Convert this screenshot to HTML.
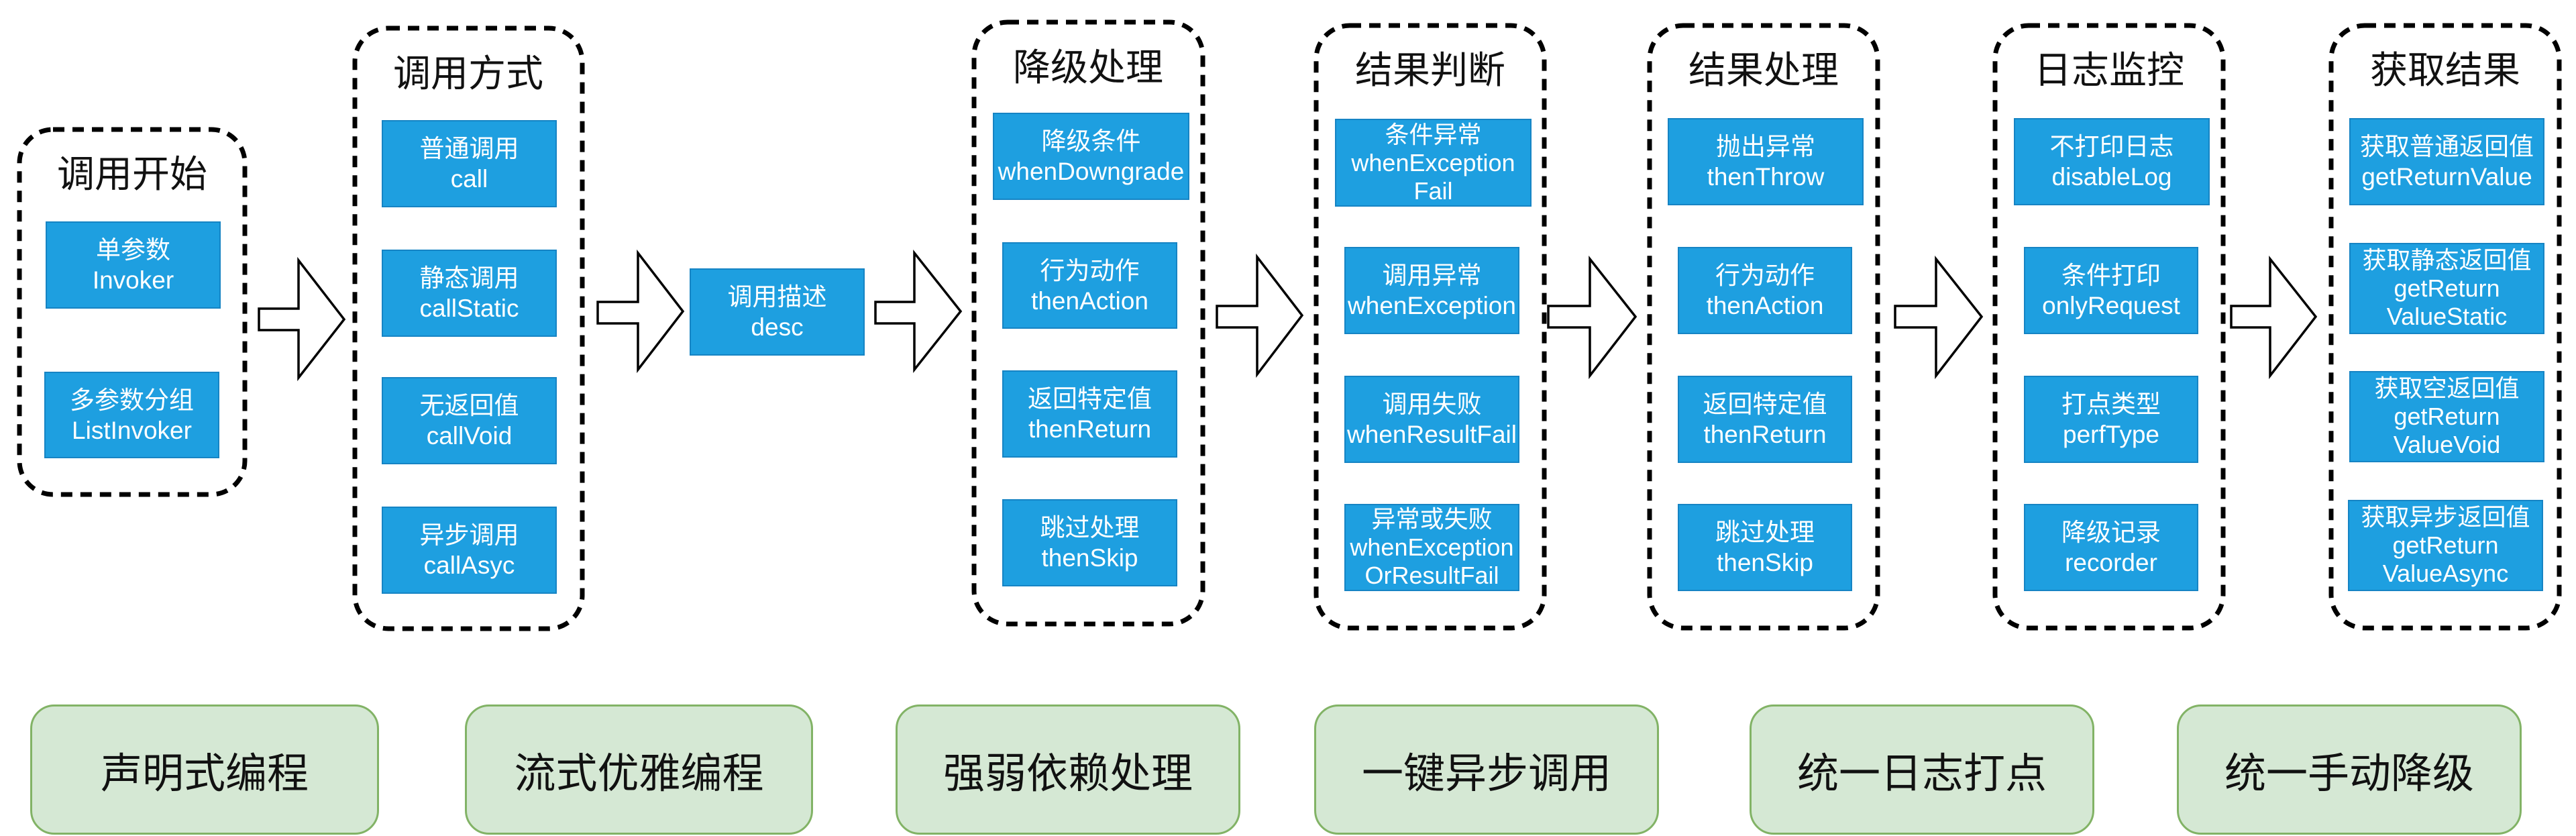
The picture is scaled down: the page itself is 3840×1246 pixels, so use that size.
<!DOCTYPE html>
<html><head><meta charset="utf-8"><style>
html,body{margin:0;padding:0;background:#fff;}
body{width:3840px;height:1246px;position:relative;overflow:hidden;font-family:"Liberation Sans","Noto Sans CJK SC",sans-serif;}
.b{position:absolute;background:#1e9fe0;border:2px solid #1684c4;box-sizing:border-box;color:#fff;display:flex;flex-direction:column;align-items:center;justify-content:center;font-size:37px;line-height:45px;text-align:center;white-space:nowrap;overflow:visible;}
.b.t{line-height:42px;font-size:36px;}
.t1{position:absolute;font-size:56px;color:#111;text-align:center;transform:translateX(-50%);white-space:nowrap;line-height:60px;}
.g{position:absolute;background:#d5e8d4;border:3px solid #82b366;box-sizing:border-box;border-radius:36px;display:flex;align-items:center;justify-content:center;font-size:62px;color:#111;}
svg{position:absolute;left:0;top:0;}
</style></head><body>
<svg width="3840" height="1246">
<g fill="none" stroke="#000" stroke-width="7" stroke-dasharray="17 12">
<rect x="29" y="193" width="336" height="544" rx="50"/>
<rect x="529" y="42" width="339" height="895" rx="50"/>
<rect x="1452" y="33" width="341" height="897" rx="50"/>
<rect x="1962" y="38" width="340" height="898" rx="50"/>
<rect x="2459" y="38" width="340" height="898" rx="50"/>
<rect x="2974" y="38" width="340" height="898" rx="50"/>
<rect x="3475" y="38" width="340" height="898" rx="50"/>
</g>
<g fill="#fff" stroke="#000" stroke-width="3.5" stroke-linejoin="miter">
<polygon points="386,460 445,460 445,388 513,476 445,563 445,492 386,492"/>
<polygon points="891,450 951,450 951,377 1018,464 951,551 951,482 891,482"/>
<polygon points="1305,450 1363,450 1363,377 1432,464 1363,551 1363,482 1305,482"/>
<polygon points="1814,456 1874,456 1874,383 1941,470 1874,558 1874,488 1814,488"/>
<polygon points="2308,456 2370,456 2370,386 2438,472 2370,560 2370,488 2308,488"/>
<polygon points="2825,456 2886,456 2886,386 2954,472 2886,560 2886,488 2825,488"/>
<polygon points="3326,456 3384,456 3384,386 3452,472 3384,560 3384,488 3326,488"/>
</g>
</svg>

<div class="t1" style="left:197px;top:230px;">调用开始</div>
<div class="t1" style="left:698px;top:80px;">调用方式</div>
<div class="t1" style="left:1622px;top:71px;">降级处理</div>
<div class="t1" style="left:2132px;top:75px;">结果判断</div>
<div class="t1" style="left:2629px;top:75px;">结果处理</div>
<div class="t1" style="left:3144px;top:75px;">日志监控</div>
<div class="t1" style="left:3645px;top:75px;">获取结果</div>

<div class="b" style="left:68px;top:330px;width:261px;height:130px;">单参数<br>Invoker</div>
<div class="b" style="left:66px;top:554px;width:261px;height:129px;">多参数分组<br>ListInvoker</div>

<div class="b" style="left:569px;top:179px;width:261px;height:130px;">普通调用<br>call</div>
<div class="b" style="left:569px;top:372px;width:261px;height:130px;">静态调用<br>callStatic</div>
<div class="b" style="left:569px;top:562px;width:261px;height:130px;">无返回值<br>callVoid</div>
<div class="b" style="left:569px;top:755px;width:261px;height:130px;">异步调用<br>callAsyc</div>

<div class="b" style="left:1028px;top:400px;width:261px;height:130px;">调用描述<br>desc</div>

<div class="b" style="left:1480px;top:168px;width:293px;height:130px;">降级条件<br>whenDowngrade</div>
<div class="b" style="left:1494px;top:361px;width:261px;height:129px;">行为动作<br>thenAction</div>
<div class="b" style="left:1494px;top:552px;width:261px;height:130px;">返回特定值<br>thenReturn</div>
<div class="b" style="left:1494px;top:744px;width:261px;height:130px;">跳过处理<br>thenSkip</div>

<div class="b t" style="left:1990px;top:177px;width:293px;height:131px;">条件异常<br>whenException<br>Fail</div>
<div class="b" style="left:2004px;top:368px;width:261px;height:130px;">调用异常<br>whenException</div>
<div class="b" style="left:2004px;top:560px;width:261px;height:130px;">调用失败<br>whenResultFail</div>
<div class="b t" style="left:2004px;top:751px;width:261px;height:130px;">异常或失败<br>whenException<br>OrResultFail</div>

<div class="b" style="left:2486px;top:176px;width:292px;height:130px;">抛出异常<br>thenThrow</div>
<div class="b" style="left:2501px;top:368px;width:260px;height:130px;">行为动作<br>thenAction</div>
<div class="b" style="left:2501px;top:560px;width:260px;height:130px;">返回特定值<br>thenReturn</div>
<div class="b" style="left:2501px;top:751px;width:260px;height:130px;">跳过处理<br>thenSkip</div>

<div class="b" style="left:3002px;top:176px;width:292px;height:130px;">不打印日志<br>disableLog</div>
<div class="b" style="left:3017px;top:368px;width:260px;height:130px;">条件打印<br>onlyRequest</div>
<div class="b" style="left:3017px;top:560px;width:260px;height:130px;">打点类型<br>perfType</div>
<div class="b" style="left:3017px;top:751px;width:260px;height:130px;">降级记录<br>recorder</div>

<div class="b" style="left:3502px;top:176px;width:291px;height:130px;">获取普通返回值<br>getReturnValue</div>
<div class="b t" style="left:3502px;top:362px;width:291px;height:136px;">获取静态返回值<br>getReturn<br>ValueStatic</div>
<div class="b t" style="left:3502px;top:553px;width:291px;height:136px;">获取空返回值<br>getReturn<br>ValueVoid</div>
<div class="b t" style="left:3500px;top:745px;width:291px;height:136px;">获取异步返回值<br>getReturn<br>ValueAsync</div>

<div class="g" style="left:45px;top:1050px;width:520px;height:194px;">声明式编程</div>
<div class="g" style="left:693px;top:1050px;width:519px;height:194px;">流式优雅编程</div>
<div class="g" style="left:1335px;top:1050px;width:514px;height:194px;">强弱依赖处理</div>
<div class="g" style="left:1959px;top:1050px;width:514px;height:194px;">一键异步调用</div>
<div class="g" style="left:2608px;top:1050px;width:514px;height:194px;">统一日志打点</div>
<div class="g" style="left:3245px;top:1050px;width:514px;height:194px;">统一手动降级</div>
</body></html>
